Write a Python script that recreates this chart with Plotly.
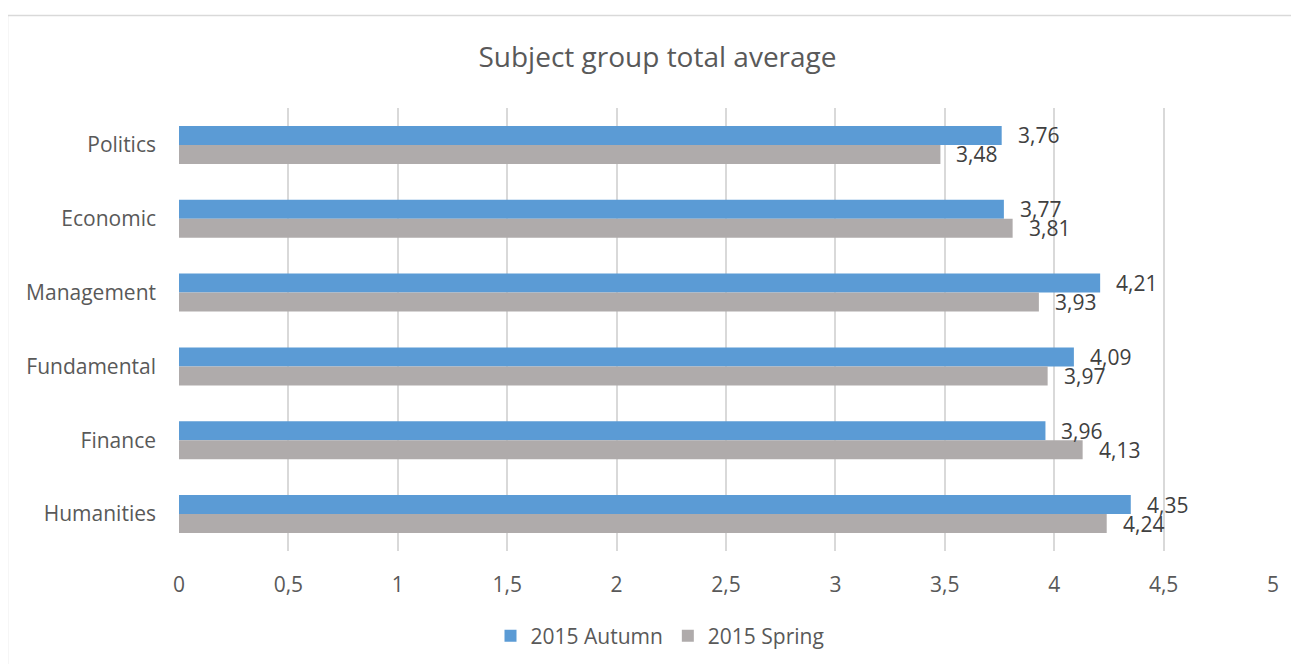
import plotly.graph_objects as go

categories = ["Politics", "Economic", "Management", "Fundamental", "Finance", "Humanities"]
autumn = [3.76, 3.77, 4.21, 4.09, 3.96, 4.35]
spring = [3.48, 3.81, 3.93, 3.97, 4.13, 4.24]
series_names = ["2015 Autumn", "2015 Spring"]
tick_vals = [0, 0.5, 1, 1.5, 2, 2.5, 3, 3.5, 4, 4.5, 5]

def fmt(v):
    s = f"{v:g}"
    return s.replace(".", ",")

BLUE = "#5B9BD5"
GRAY = "#AFABAB"
FONT = "Open Sans"
BARGAP = 0.485
FS = 21

fig = go.Figure()
fig.add_trace(go.Bar(y=categories, x=autumn, orientation="h", name=series_names[0],
                     marker=dict(color=BLUE, line=dict(width=0))))
fig.add_trace(go.Bar(y=categories, x=spring, orientation="h", name=series_names[1],
                     marker=dict(color=GRAY, line=dict(width=0))))

half = (1 - BARGAP) / 4.0
annotations = []
for i, (a, s) in enumerate(zip(autumn, spring)):
    annotations.append(dict(x=a, y=i - half, xref="x", yref="y", text=fmt(a),
                            showarrow=False, xanchor="left", yanchor="middle", xshift=14,
                            font=dict(family=FONT, size=FS, color="#404040")))
    annotations.append(dict(x=s, y=i + half, xref="x", yref="y", text=fmt(s),
                            showarrow=False, xanchor="left", yanchor="middle", xshift=14,
                            font=dict(family=FONT, size=FS, color="#404040")))

# page body has an 8px margin: work in page pixels, convert to figure pixels
OFF = 8
W, H = 1299 - OFF, 664 - OFF
L, R, T, B = 179 - OFF, 26, 108 - OFF, 113
pw, ph = W - L - R, H - T - B

def px_to_paper_x(px):
    return (px - OFF - L) / pw

def px_to_paper_y(py):
    return (H - B - (py - OFF)) / ph

fig.update_layout(
    width=W, height=H,
    margin=dict(l=L, r=R, t=T, b=B, autoexpand=False),
    paper_bgcolor="white", plot_bgcolor="white",
    barmode="group", bargap=BARGAP, bargroupgap=0,
    font=dict(family=FONT, color="#595959", size=FS),
    title=dict(text="Subject group total average", x=(657.5 - OFF) / W, xref="container",
               y=1 - (57 - OFF) / H, yanchor="middle", xanchor="center",
               font=dict(family=FONT, size=28, color="#595959")),
    xaxis=dict(range=[0, 5], tickvals=tick_vals, ticktext=[fmt(v) for v in tick_vals],
               showgrid=True, gridcolor="#D9D9D9", gridwidth=1.5, zeroline=False,
               showline=False, ticks="", ticklabelstandoff=19,
               tickfont=dict(family=FONT, size=FS, color="#595959")),
    yaxis=dict(autorange="reversed", showgrid=False, zeroline=False, showline=False,
               ticks="", ticklabelstandoff=22,
               tickfont=dict(family=FONT, size=FS, color="#595959")),
    legend=dict(orientation="h", x=px_to_paper_x(660), xanchor="center",
                y=px_to_paper_y(636), yanchor="middle",
                font=dict(family=FONT, size=FS, color="#595959"),
                itemwidth=30, traceorder="normal"),
    annotations=annotations,
    shapes=[dict(type="rect", xref="paper", yref="paper",
                 x0=px_to_paper_x(7.5), x1=px_to_paper_x(1310),
                 y0=px_to_paper_y(680), y1=px_to_paper_y(15.5),
                 line=dict(color="#D9D9D9", width=1.5), fillcolor="rgba(0,0,0,0)",
                 layer="below")],
)

fig.write_html("out.html")
